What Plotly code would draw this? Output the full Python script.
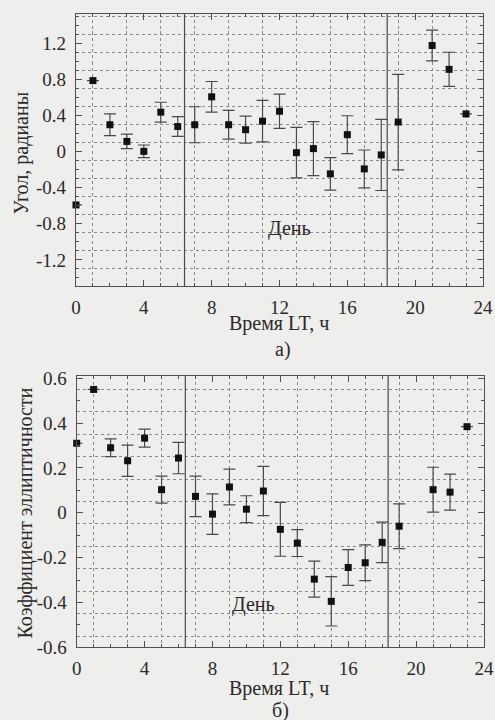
import plotly.graph_objects as go

# ---------------- data ----------------
hours = [0, 1, 2, 3, 4, 5, 6, 7, 8, 9, 10, 11, 12, 13, 14, 15, 16, 17, 18, 19, 21, 22, 23]

angle = [-0.59, 0.79, 0.30, 0.115, 0.005, 0.44, 0.28, 0.30, 0.61, 0.30, 0.245, 0.34,
         0.45, -0.01, 0.035, -0.245, 0.19, -0.19, -0.035, 0.33, 1.18, 0.915, 0.42]
angle_err = [None, None, 0.12, 0.08, 0.07, 0.11, 0.11, 0.20, 0.17, 0.16, 0.15, 0.23,
             0.19, 0.28, 0.30, 0.18, 0.21, 0.21, 0.395, 0.53, 0.17, 0.19, None]

ellip = [0.31, 0.55, 0.29, 0.232, 0.333, 0.103, 0.244, 0.073, -0.006, 0.115, 0.016, 0.097,
         -0.074, -0.135, -0.296, -0.395, -0.244, -0.223, -0.132, -0.06, 0.103, 0.092, 0.384]
ellip_err = [None, None, 0.04, 0.07, 0.04, 0.06, 0.07, 0.09, 0.09, 0.08, 0.06, 0.11,
             0.12, 0.06, 0.08, 0.11, 0.08, 0.08, 0.09, 0.10, 0.10, 0.08, None]

day_bounds = [6.4, 18.35]

x_ticks = [0, 4, 8, 12, 16, 20, 24]
x_ticklabels = ["0", "4", "8", "12", "16", "20", "24"]
ya_ticks = [1.2, 0.8, 0.4, 0, -0.4, -0.8, -1.2]
ya_ticklabels = ["1.2", "0.8", "0.4", "0", "-0.4", "-0.8", "-1.2"]
yb_ticks = [0.6, 0.4, 0.2, 0, -0.2, -0.4, -0.6]
yb_ticklabels = ["0.6", "0.4", "0.2", "0", "-0.2", "-0.4", "-0.6"]

ya_range = [-1.49, 1.535]
yb_range = [-0.6, 0.61]
x_range = [0, 24]

# ---------------- style ----------------
FONT = "Liberation Serif"
TXT = "#2a2a2a"
AX = "#505050"
GRID = "#8a8a8a"
BG = "#eeeeec"

W, H = 495, 720


def px(p):
    return p / W


def py(p):
    return 1 - p / H


top_dom_x = [px(76), px(483)]
top_dom_y = [py(286), py(13.5)]
bot_dom_x = [px(76.7), px(484)]
bot_dom_y = [py(647.3), py(376)]

fig = go.Figure()


def add_series(x, y, err, xa, ya):
    fig.add_trace(go.Scatter(
        x=x, y=y, mode="markers", xaxis=xa, yaxis=ya,
        marker=dict(symbol="square", size=7, color="#111111"),
        error_y=dict(type="data", array=err, visible=True, color="#4a4a4a",
                     thickness=1.2, width=6),
        cliponaxis=False, showlegend=False, hoverinfo="x+y"))


add_series(hours, angle, angle_err, "x", "y")
add_series(hours, ellip, ellip_err, "x2", "y2")

# dummy traces for grid-only overlay axes
fig.add_trace(go.Scatter(x=[None], y=[None], xaxis="x3", yaxis="y3", showlegend=False, hoverinfo="skip"))
fig.add_trace(go.Scatter(x=[None], y=[None], xaxis="x4", yaxis="y4", showlegend=False, hoverinfo="skip"))

# day boundary lines
for xa, ya, rng in (("x", "y", ya_range), ("x2", "y2", yb_range)):
    for b in day_bounds:
        fig.add_trace(go.Scatter(x=[b, b], y=rng, mode="lines", xaxis=xa, yaxis=ya,
                                 line=dict(color="#4a4a4a", width=1.2),
                                 showlegend=False, hoverinfo="skip"))

tickfont = dict(family=FONT, size=19, color=TXT)


def main_x(dom, anchor):
    return dict(domain=dom, anchor=anchor, range=x_range, tickvals=x_ticks, ticktext=x_ticklabels,
                ticks="inside", ticklen=6, tickcolor=AX, tickwidth=1,
                minor=dict(dtick=1, tick0=0, ticks="inside", ticklen=3, tickcolor=AX, showgrid=False),
                showline=True, linecolor=AX, linewidth=1.2, mirror="ticks",
                showgrid=False, zeroline=False, tickfont=tickfont, ticklabelstandoff=4,
                automargin=False)


def main_y(dom, anchor, rng, tv, tt):
    return dict(domain=dom, anchor=anchor, range=rng, tickvals=tv, ticktext=tt,
                ticks="inside", ticklen=6, tickcolor=AX, tickwidth=1,
                minor=dict(dtick=0.1, tick0=0, ticks="inside", ticklen=3, tickcolor=AX, showgrid=False),
                showline=True, linecolor=AX, linewidth=1.2, mirror="ticks",
                showgrid=False, zeroline=False, tickfont=tickfont, ticklabelstandoff=5,
                automargin=False)


def grid_ax(overlay, anchor, rng, t0, dt):
    return dict(overlaying=overlay, anchor=anchor, range=rng, tick0=t0, dtick=dt,
                showgrid=True, griddash="dot", gridcolor=GRID, gridwidth=1,
                showticklabels=False, ticks="", showline=False, zeroline=False,
                automargin=False)


fig.update_layout(
    width=W, height=H,
    margin=dict(l=0, r=0, t=0, b=0, autoexpand=False),
    paper_bgcolor=BG, plot_bgcolor=BG,
    font=dict(family=FONT, color=TXT),
    xaxis=main_x(top_dom_x, "y"),
    yaxis=main_y(top_dom_y, "x", ya_range, ya_ticks, ya_ticklabels),
    xaxis2=main_x(bot_dom_x, "y2"),
    yaxis2=main_y(bot_dom_y, "x2", yb_range, yb_ticks, yb_ticklabels),
    xaxis3=grid_ax("x", "y3", x_range, 1, 2),
    yaxis3=grid_ax("y", "x3", ya_range, 0.1, 0.2),
    xaxis4=grid_ax("x2", "y4", x_range, 1, 2),
    yaxis4=grid_ax("y2", "x4", yb_range, 0.05, 0.1),
)

labfont = dict(family=FONT, size=20, color=TXT)
ann = [
    dict(text="Угол, радианы", x=px(21), y=py(153.5), textangle=-90),
    dict(text="Коэффициент эллиптичности", x=px(25), y=py(513.5), textangle=-90),
    dict(text="Время LT, ч", x=px(279), y=py(324)),
    dict(text="а)", x=px(283), y=py(349)),
    dict(text="Время LT, ч", x=px(279), y=py(688)),
    dict(text="б)", x=px(280), y=py(710)),
]
for a in ann:
    fig.add_annotation(xref="paper", yref="paper", showarrow=False, font=labfont,
                       xanchor="center", yanchor="middle", **a)

fig.add_annotation(text="День", x=12.6, y=-0.85, xref="x", yref="y", showarrow=False, font=labfont)
fig.add_annotation(text="День", x=10.4, y=-0.41, xref="x2", yref="y2", showarrow=False, font=labfont)

# remove the default 8px body margin so the figure fills the window exactly
fig.write_html("out.html",
               config={"displayModeBar": False},
               post_script="document.body.style.margin='0';"
                           "document.documentElement.style.overflow='hidden';")
